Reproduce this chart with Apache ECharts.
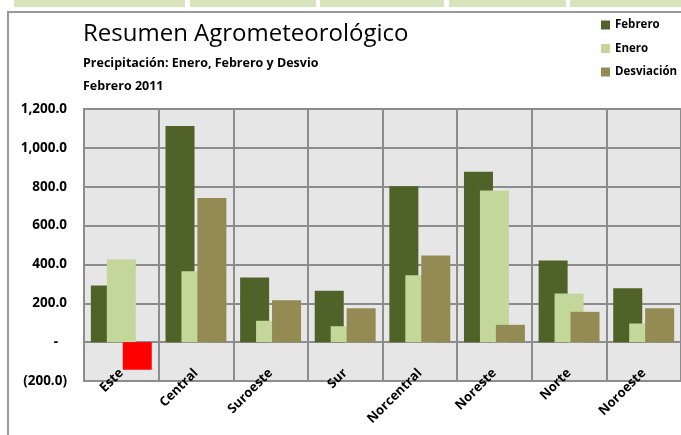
<!DOCTYPE html>
<html>
<head>
<meta charset="utf-8">
<script src="https://cdn.jsdelivr.net/npm/echarts@6/dist/echarts.min.js"></script>
<style>
	html, body { margin: 0; padding: 0; background: #fff; }
	#chart { width: 681px; height: 435px; }
</style>
</head>
<body>
<div id="chart"></div>
<script>
	// valores (mm)
	var categorias = ['Este', 'Central', 'Suroeste', 'Sur', 'Norcentral', 'Noreste', 'Norte', 'Noroeste'];
	var febrero = [292, 1112, 333, 264, 802, 877, 420, 278];
	var enero = [427, 365, 110, 82, 344, 781, 250, 96];
	var desviacion = [-142, 742, 216, 175, 446, 89, 156, 175];
	var yTicks = [-200, 0, 200, 400, 600, 800, 1000, 1200];

	var gris = '#8c8c8c';
	var fuente = '"Open Sans", sans-serif';

	function fmt(v) {
		if (v === 0) return '{z|-}';
		var s = Math.abs(v).toLocaleString('en-US', {minimumFractionDigits: 1, maximumFractionDigits: 1});
		return v < 0 ? '(' + s + ')' : s;
	}

	var chart = echarts.init(document.getElementById('chart'));

	// tiras verdes de arriba (encabezado de la hoja)
	var tiras = [[14, 185], [190, 316], [320, 444], [449, 566], [570, 681]];
	var graphics = tiras.map(function (t) {
		return {type: 'rect', shape: {x: t[0], y: 0, width: t[1] - t[0], height: 7}, style: {fill: '#d8e4bc'}, silent: true};
	});
	graphics.push({type: 'line', shape: {x1: 7, y1: 12, x2: 681, y2: 12}, style: {stroke: '#999', lineWidth: 2}});
	graphics.push({type: 'line', shape: {x1: 8, y1: 12, x2: 8, y2: 435}, style: {stroke: '#999', lineWidth: 2}});

	chart.setOption({
		backgroundColor: '#fff',
		animation: false,
		graphic: graphics,
		title: [{
			text: 'Resumen Agrometeorológico',
			left: 78, top: 17,
			textStyle: {fontFamily: fuente, fontWeight: 'normal', fontSize: 24, color: '#000'}
		}, {
			text: 'Precipitación: Enero, Febrero y Desvio',
			left: 78, top: 52,
			textStyle: {fontFamily: fuente, fontWeight: 'bold', fontSize: 12.5, color: '#000'}
		}, {
			text: 'Febrero 2011',
			left: 78, top: 75,
			textStyle: {fontFamily: fuente, fontWeight: 'bold', fontSize: 12.5, color: '#000'}
		}],
		legend: {
			orient: 'vertical',
			left: 601, top: 18,
			padding: 0,
			itemWidth: 9, itemHeight: 9,
			itemGap: 9.5,
			icon: 'rect',
			textStyle: {fontFamily: fuente, fontWeight: 'bold', fontSize: 11.5, lineHeight: 14, color: '#000'},
			data: ['Febrero', 'Enero', 'Desviación']
		},
		grid: {
			left: 84, top: 109, width: 598, height: 272,
			show: true, backgroundColor: '#e6e6e6', borderColor: gris, borderWidth: 2,
			containLabel: false
		},
		xAxis: {
			type: 'category',
			data: categorias,
			axisLine: {show: false},
			axisTick: {show: false},
			splitLine: {show: true, lineStyle: {color: gris, width: 2}},
			axisLabel: {
				rotate: 45, margin: -10, interval: 0,
				fontFamily: fuente, fontWeight: 'bold', fontSize: 13, color: '#000'
			}
		},
		yAxis: {
			type: 'value',
			min: yTicks[0], max: yTicks[yTicks.length - 1], interval: 200,
			axisLine: {show: false},
			axisTick: {show: false},
			splitLine: {lineStyle: {color: gris, width: 2}},
			axisLabel: {
				margin: 17,
				fontFamily: fuente, fontWeight: 'bold', fontSize: 13.5, color: '#000',
				formatter: fmt,
				rich: {z: {fontFamily: fuente, fontWeight: 'bold', fontSize: 13.5, color: '#000', padding: [0, 9, 0, 0]}}
			}
		},
		series: [{
			name: 'Febrero', type: 'bar', barWidth: 29, barGap: '-45%',
			itemStyle: {color: '#4f6228'},
			data: febrero
		}, {
			name: 'Enero', type: 'bar', barWidth: 29, barGap: '-45%',
			itemStyle: {color: '#c4d79b'},
			data: enero
		}, {
			name: 'Desviación', type: 'bar', barWidth: 29, barGap: '-45%',
			itemStyle: {color: '#948a54'},
			data: desviacion.map(function (v) {
				return v < 0 ? {value: v, itemStyle: {color: '#ff0000'}} : v;
			})
		}]
	});
</script>
</body>
</html>
